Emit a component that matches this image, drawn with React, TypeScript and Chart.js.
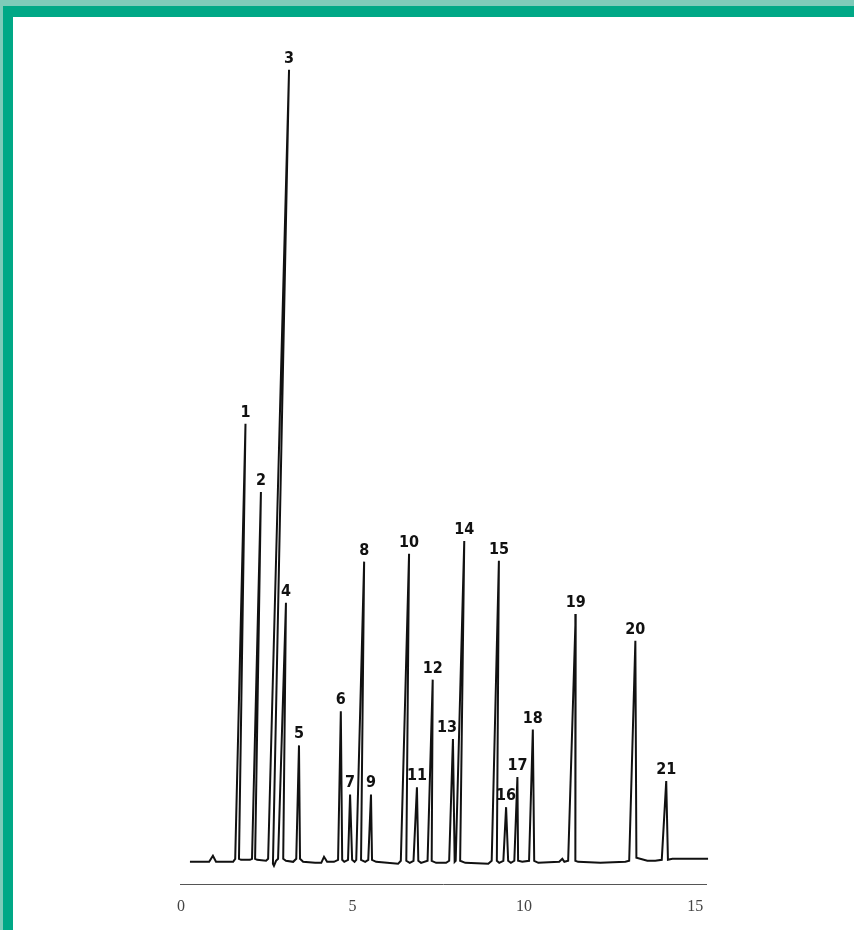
import React, { useEffect, useRef } from 'react';
import { Chart, registerables } from 'chart.js';

Chart.register(...registerables);

// Retention time axis (min)
const xTickValues = [0, 5, 10, 15];

// Detector trace: retention time (min) and signal (arbitrary units)
const traceTime = [
  0.26, 0.82, 0.93, 1.02, 1.52, 1.58, 1.88, 1.69, 1.75, 2.01,
  2.07, 2.33, 2.16, 2.22, 2.48, 2.54, 3.15, 2.68, 2.71, 2.77,
  2.83, 3.06, 2.98, 3.06, 3.27, 3.36, 3.44, 3.47, 3.56, 3.91,
  4.09, 4.17, 4.26, 4.46, 4.58, 4.66, 4.7, 4.76, 4.87, 4.93,
  4.99, 5.06, 5.11, 5.34, 5.25, 5.37, 5.46, 5.54, 5.57, 5.69,
  6.33, 6.41, 6.65, 6.57, 6.67, 6.78, 6.88, 6.92, 7.0, 7.19,
  7.34, 7.31, 7.44, 7.73, 7.82, 7.93, 7.98, 8.01, 8.26, 8.14,
  8.29, 8.96, 9.06, 9.27, 9.21, 9.28, 9.4, 9.48, 9.54, 9.62,
  9.72, 9.81, 9.83, 9.95, 10.15, 10.26, 10.3, 10.42, 11.03, 11.12,
  11.18, 11.29, 11.51, 11.5, 11.58, 12.23, 12.96, 13.07, 13.25, 13.28,
  13.6, 13.83, 14.02, 14.15, 14.2, 14.33, 15.37,
];
const traceSignal = [
  0, 0, 0.76, 0, 0, 0.38, 55.3, 0.38, 0.25, 0.25,
  0.38, 46.7, 0.38, 0.25, 0.13, 0.38, 100, -0.25, -0.51, 0.13,
  0.38, 32.7, 0.38, 0.13, 0, 0.38, 14.7, 0.38, 0, -0.13,
  -0.13, 0.63, 0, 0, 0.25, 19.0, 0.25, 0, 0.25, 8.5,
  0.25, 0, 0.25, 37.9, 0.25, 0, 0.25, 8.5, 0.25, 0,
  -0.25, 0.13, 38.9, 0.13, -0.13, 0.13, 9.4, 0.13, -0.13, 0.13,
  23.0, 0.13, -0.13, -0.13, 0.13, 15.5, 0, 0.13, 40.5, 0.13,
  -0.13, -0.25, 0.13, 38.0, 0.13, -0.13, 0.13, 6.9, 0.13, -0.13,
  0.13, 10.7, 0.13, 0, 0.13, 16.7, 0.13, -0.13, 0, 0.38,
  0, 0.13, 31.3, 0.13, 0, -0.13, 0, 0.13, 27.9, 0.51,
  0.13, 0.13, 0.25, 10.2, 0.25, 0.38, 0.38,
];

// Peak annotations
const peakLabels = ['1', '2', '3', '4', '5', '6', '7', '8', '9', '10', '11', '12', '13', '14', '15', '16', '17', '18', '19', '20', '21'];
const peakTime = [1.88, 2.33, 3.15, 3.06, 3.44, 4.66, 4.93, 5.34, 5.54, 6.65, 6.88, 7.34, 7.93, 8.26, 9.27, 9.48, 9.81, 10.26, 11.51, 13.25, 14.15];
const peakSignal = [55.3, 46.7, 100, 32.7, 14.7, 19.0, 8.5, 37.9, 8.5, 38.9, 9.4, 23.0, 15.5, 40.5, 38.0, 6.9, 10.7, 16.7, 31.3, 27.9, 10.2];

// label style nudges (pixels)
const labelNudgeX: Record<string, number> = { '13': -6 };

export default function App() {
  const ref = useRef<HTMLCanvasElement>(null);

  useEffect(() => {
    document.body.style.margin = '0';
    const canvas = ref.current;
    if (!canvas) return;

    const framePlugin = {
      id: 'frame',
      beforeDraw(chart: any) {
        const { ctx, width, height } = chart;
        ctx.save();
        ctx.fillStyle = '#ffffff';
        ctx.fillRect(0, 0, width, height);
        ctx.fillStyle = '#7ecbb9';
        ctx.fillRect(0, 0, width, 6);
        ctx.fillRect(0, 0, 3, height);
        ctx.fillStyle = '#00a886';
        ctx.fillRect(3, 6, width - 3, 11);
        ctx.fillRect(3, 6, 10, height - 6);
        ctx.restore();
      },
    };

    const peakLabelPlugin = {
      id: 'peakLabels',
      afterDatasetsDraw(chart: any) {
        const { ctx } = chart;
        const xs = chart.scales.x;
        const ys = chart.scales.y;
        ctx.save();
        ctx.fillStyle = '#111111';
        ctx.font = 'bold 16px "Liberation Sans Narrow", "DejaVu Sans Condensed", "Liberation Sans", sans-serif';
        ctx.textAlign = 'center';
        ctx.textBaseline = 'alphabetic';
        peakLabels.forEach((lab, i) => {
          const px = xs.getPixelForValue(peakTime[i]) + (labelNudgeX[lab] || 0);
          const py = ys.getPixelForValue(peakSignal[i]) - 7;
          ctx.fillText(lab, px, py);
        });
        ctx.restore();
      },
    };

    const chart = new Chart(canvas, {
      type: 'line',
      data: {
        datasets: [
          {
            data: traceTime.map((t, i) => ({ x: t, y: traceSignal[i] })),
            borderColor: '#111111',
            borderWidth: 2,
            pointRadius: 0,
            tension: 0,
            fill: false,
            clip: false as any,
          },
        ],
      },
      options: {
        animation: false,
        responsive: false,
        devicePixelRatio: 1,
        layout: { padding: { left: 180, right: 148, top: 46, bottom: 0 } },
        plugins: {
          legend: { display: false },
          tooltip: { enabled: false },
        },
        scales: {
          x: {
            type: 'linear',
            min: -0.03,
            max: 15.31,
            grid: { display: false, drawTicks: false },
            border: { display: true, color: '#555555', width: 1 },
            afterBuildTicks: (scale: any) => {
              scale.ticks = xTickValues.map((v) => ({ value: v }));
            },
            afterFit: (scale: any) => {
              scale.height = 46;
            },
            ticks: {
              padding: 13,
              color: '#444444',
              autoSkip: false,
              maxRotation: 0,
              font: { family: '"Liberation Serif", "DejaVu Serif", serif', size: 16 },
            },
          },
          y: {
            display: false,
            min: -2.8,
            max: 103,
          },
        },
      },
      plugins: [framePlugin, peakLabelPlugin],
    });

    return () => chart.destroy();
  }, []);

  return (
    <canvas
      ref={ref}
      width={854}
      height={930}
      style={{ position: 'fixed', left: 0, top: 0, display: 'block', width: 854, height: 930 }}
    />
  );
}
